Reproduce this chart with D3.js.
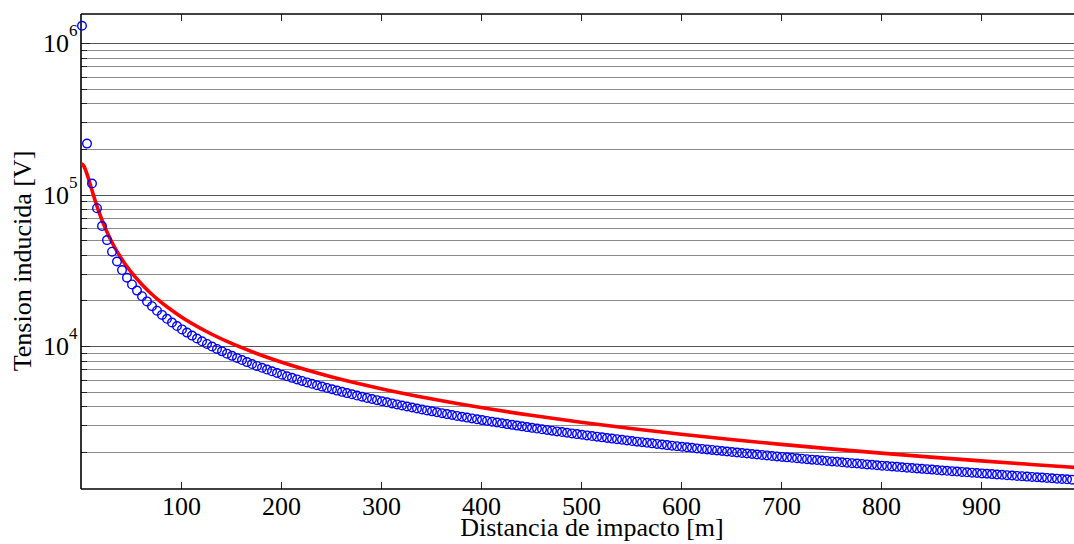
<!DOCTYPE html>
<html><head><meta charset="utf-8">
<script src="https://cdn.jsdelivr.net/npm/d3@7"></script>
<style>body{margin:0;background:#fff}svg{display:block}text{font-family:"Liberation Serif","Times New Roman",serif;fill:#000}</style>
</head><body><svg id="c" width="1074" height="544"></svg>
<script>
// Measured data (blue circles)
const measDist = [1,6,11,16,21,26,31,36,41,46,51,56,61,66,71,76,81,86,91,96,101,106,111,116,121,126,131,136,141,146,151,156,161,166,171,176,181,186,191,196,201,206,211,216,221,226,231,236,241,246,251,256,261,266,271,276,281,286,291,296,301,306,311,316,321,326,331,336,341,346,351,356,361,366,371,376,381,386,391,396,401,406,411,416,421,426,431,436,441,446,451,456,461,466,471,476,481,486,491,496,501,506,511,516,521,526,531,536,541,546,551,556,561,566,571,576,581,586,591,596,601,606,611,616,621,626,631,636,641,646,651,656,661,666,671,676,681,686,691,696,701,706,711,716,721,726,731,736,741,746,751,756,761,766,771,776,781,786,791,796,801,806,811,816,821,826,831,836,841,846,851,856,861,866,871,876,881,886,891,896,901,906,911,916,921,926,931,936,941,946,951,956,961,966,971,976,981,986,991];
const measVolt = [1300000,216700,118200,81250,61900,50000,41940,36110,31710,28260,25490,23210,21310,19700,18310,17110,16050,15120,14290,13540,12870,12260,11710,11210,10740,10320,9924,9559,9220,8904,8609,8333,8075,7831,7602,7386,7182,6989,6806,6633,6468,6311,6161,6019,5882,5752,5628,5508,5394,5285,5179,5078,4981,4887,4797,4710,4626,4545,4467,4392,4319,4248,4180,4114,4050,3988,3927,3869,3812,3757,3704,3652,3601,3552,3504,3457,3412,3368,3325,3283,3242,3202,3163,3125,3088,3052,3016,2982,2948,2915,2882,2851,2820,2790,2760,2731,2703,2675,2648,2621,2595,2569,2544,2519,2495,2471,2448,2425,2403,2381,2359,2338,2317,2297,2277,2257,2238,2218,2200,2181,2163,2145,2128,2110,2093,2077,2060,2044,2028,2012,1997,1982,1967,1952,1937,1923,1909,1895,1881,1868,1854,1841,1828,1816,1803,1791,1778,1766,1754,1743,1731,1720,1708,1697,1686,1675,1665,1654,1643,1633,1623,1613,1603,1593,1583,1574,1564,1555,1546,1537,1528,1519,1510,1501,1493,1484,1476,1467,1459,1451,1443,1435,1427,1419,1412,1404,1396,1389,1382,1374,1367,1360,1353,1346,1339,1332,1325,1318,1312];
// Model curve (red line)
const modelDist = [0,2.5,5,7.5,10,15,20,25,30,40,50,60,70,80,90,100,125,150,175,200,250,300,350,400,450,500,550,600,650,700,750,800,850,900,950,1000];
const modelVolt = [160000,155300,142700,127200,112100,87600,70500,58500,49750,38120,30810,25820,22210,19480,17340,15620,12520,10440,8960,7840,6270,5230,4485,3925,3489,3140,2855,2617,2415,2243,2093,1963,1847,1744,1653,1570];
const xTicks = [100,200,300,400,500,600,700,800,900];
const yMajor = [1e4,1e5,1e6];
const yExp = ["4","5","6"];
const xLabel = "Distancia de impacto [m]";
const yLabel = "Tension inducida [V]";

const L=81, T=14, B=489, R=1103;
const svg=d3.select("#c");
const x=d3.scaleLinear().domain([0,1022]).range([L,R]);
const y=d3.scaleLog().domain([1138,1.554e6]).range([B,T]);

// grid lines (log minor + decade)
const gridVals=[];
for(let e=3;e<=6;e++){for(let m=1;m<=9;m++){const v=m*Math.pow(10,e);if(v>=1138&&v<=1.554e6)gridVals.push(v);}}
svg.append("g").selectAll("line").data(gridVals).join("line")
  .attr("x1",L).attr("x2",R).attr("y1",d=>Math.round(y(d))+0.5).attr("y2",d=>Math.round(y(d))+0.5)
  .attr("stroke",d=>yMajor.includes(d)?"#555":"#8a8a8a").attr("stroke-width",1);
// y minor ticks on left
svg.append("g").selectAll("line").data(gridVals).join("line")
  .attr("x1",L).attr("x2",d=>L+(yMajor.includes(d)?9:6)).attr("y1",d=>Math.round(y(d))+0.5).attr("y2",d=>Math.round(y(d))+0.5)
  .attr("stroke","#222").attr("stroke-width",1);

// clip
svg.append("clipPath").attr("id","pc").append("rect").attr("x",L).attr("y",T).attr("width",R-L).attr("height",B-T);

// x axis via d3 axes (ticks inward)
const xAxB=d3.axisBottom(x).tickValues(xTicks).tickSize(-7).tickFormat(d3.format("d"));
const gB=svg.append("g").attr("transform",`translate(0,${B})`).call(xAxB);
gB.select(".domain").remove();
gB.selectAll(".tick line").attr("stroke","#222");
gB.selectAll(".tick text").attr("font-size",26).attr("font-family","Liberation Serif").attr("fill","#000").attr("dy",null).attr("y",26);
const xAxT=d3.axisTop(x).tickValues(xTicks).tickSize(-7).tickFormat("");
const gT=svg.append("g").attr("transform",`translate(0,${T})`).call(xAxT);
gT.select(".domain").remove();
gT.selectAll(".tick line").attr("stroke","#222");

// frame
svg.append("line").attr("x1",L).attr("x2",R).attr("y1",B).attr("y2",B).attr("stroke","#000").attr("stroke-width",1.6);
svg.append("line").attr("x1",L).attr("x2",R).attr("y1",T).attr("y2",T).attr("stroke","#000").attr("stroke-width",1.6);
svg.append("line").attr("x1",L).attr("x2",L).attr("y1",T).attr("y2",B).attr("stroke","#000").attr("stroke-width",1.6);

// y tick labels 10^n
svg.append("g").selectAll("text").data(yMajor).join("text")
  .attr("x",69).attr("y",d=>y(d)+9).attr("text-anchor","end").attr("font-size",26).text("10");
svg.append("g").selectAll("text").data(yMajor).join("text")
  .attr("x",69).attr("y",d=>y(d)-7).attr("font-size",17).text((d,i)=>yExp[i]);

// red model line
svg.append("path").datum(modelDist.map((d,i)=>[d,modelVolt[i]]))
  .attr("clip-path","url(#pc)")
  .attr("d",d3.line().x(d=>x(d[0])).y(d=>y(d[1])).curve(d3.curveMonotoneX))
  .attr("fill","none").attr("stroke","#ff0000").attr("stroke-width",3.6);

// blue circles
svg.append("g").selectAll("circle").data(measDist.map((d,i)=>[d,measVolt[i]])).join("circle")
  .attr("cx",d=>x(d[0])).attr("cy",d=>y(d[1])).attr("r",4.3)
  .attr("fill","none").attr("stroke","#0000ff").attr("stroke-width",1.4);

// axis labels
svg.append("text").attr("x",(L+R)/2).attr("y",536).attr("text-anchor","middle").attr("font-size",26).attr("fill","#000").text(xLabel);
svg.append("text").attr("transform","translate(31,261) rotate(-90)").attr("text-anchor","middle").attr("font-size",26).attr("fill","#000").text(yLabel);
</script></body></html>
